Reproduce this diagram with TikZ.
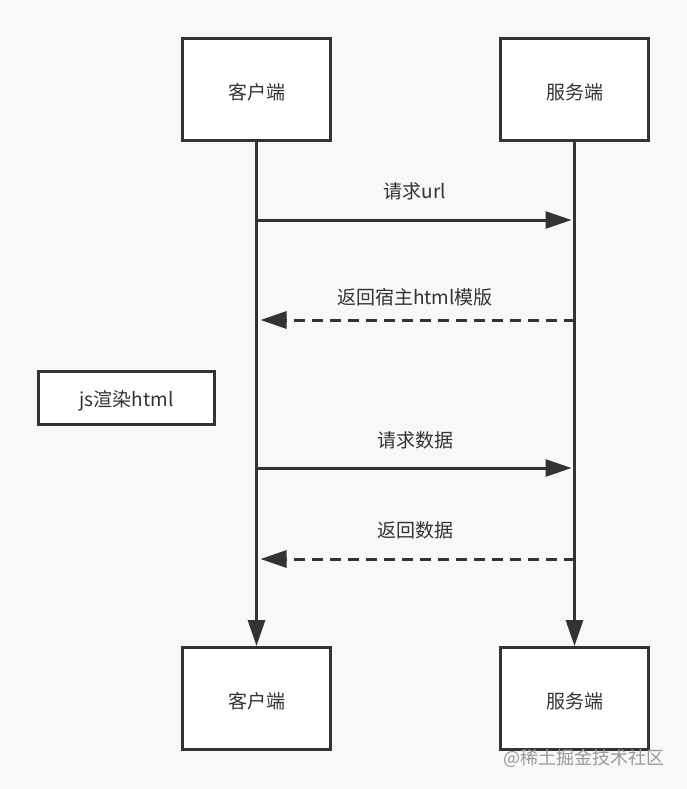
\documentclass[tikz,border=0pt]{standalone}
\usepackage{fontspec}
\setmainfont{Noto Sans CJK SC}
\usetikzlibrary{arrows.meta}
\definecolor{bg}{HTML}{F8F8F8}
\definecolor{ink}{HTML}{333333}
\newcommand{\lowered}[1]{\raisebox{-3pt}[\height][\depth]{#1}}
\begin{document}
\begin{tikzpicture}[x=1pt,y=-1pt,
	box/.style={draw=ink,line width=3pt,fill=white,minimum width=148pt,minimum height=102pt,inner sep=0pt,text=ink,font=\fontsize{19}{21}\selectfont},
	note/.style={draw=ink,line width=2.6pt,fill=white,minimum width=176pt,minimum height=53pt,inner sep=0pt,text=ink,font=\fontsize{19}{21}\selectfont},
	msg/.style={text=ink,font=\fontsize{19}{21}\selectfont},
	tip/.style={-{Triangle[length=26pt,width=17pt]}},
	call/.style={draw=ink,line width=3pt,tip,shorten >=3pt},
	back/.style={draw=ink,line width=3pt,tip,dash pattern=on 11pt off 7pt,shorten >=4pt}]
	\useasboundingbox[fill=bg] (0,0) rectangle (687,789);
	% lifelines
	\node[box] (ct) at (256.5,89.5) {\lowered{客户端}};
	\node[box] (st) at (574.5,89.5) {\lowered{服务端}};
	\node[box] (cb) at (256.5,698.5) {\lowered{客户端}};
	\node[box] (sb) at (574.5,698.5) {\lowered{服务端}};
	\draw[ink,line width=3pt,tip] (ct) -- (cb);
	\draw[ink,line width=3pt,tip] (st) -- (sb);
	% messages
	\coordinate (c1) at (256.5,220); \coordinate (s1) at (574.5,220);
	\coordinate (c2) at (256.5,320); \coordinate (s2) at (574.5,320);
	\coordinate (c3) at (256.5,468); \coordinate (s3) at (574.5,468);
	\coordinate (c4) at (256.5,559); \coordinate (s4) at (574.5,559);
	\draw[call] (c1) -- (s1);
	\draw[back] (s2) -- (c2);
	\draw[call] (c3) -- (s3);
	\draw[back] (s4) -- (c4);
	\node[msg] (m1) at (415,191) {请求url};
	\node[msg] (m2) at (415,297) {返回宿主html模版};
	\node[msg] (m3) at (415,440) {请求数据};
	\node[msg] (m4) at (415,530) {返回数据};
	\node[note] (js) at (126.5,398) {\lowered{js渲染html}};
	\node[text=black!40,font=\fontsize{18}{20}\selectfont] (wm) at (584,758) {@稀土掘金技术社区};
\end{tikzpicture}
\end{document}
